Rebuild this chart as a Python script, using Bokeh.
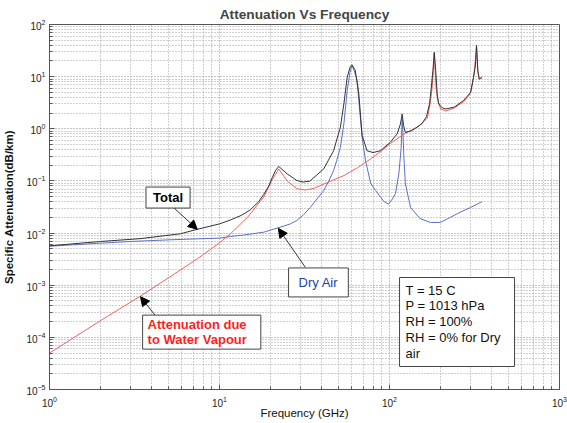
from bokeh.plotting import figure
from bokeh.models import (Range1d, FixedTicker, LogTickFormatter, Label, Arrow,
                          NormalHead)
from bokeh.embed import file_html
from bokeh.resources import INLINE

# ---------------- data ----------------
freq_total = [1, 2, 3.4, 5.9, 7.4, 10, 11.6, 13.5, 15.2, 17, 18.2, 19.5, 20.4, 21.4,
              22.3, 25, 28.5, 31, 34, 41, 46.9, 51.4, 53.9, 56.4, 58.8, 60.1, 62.9, 66,
              69, 73.7, 80, 88.5, 101, 111, 116, 118.7, 121, 124, 135, 145, 155, 165,
              172, 176, 180, 183.5, 187, 191, 195, 205, 215, 240, 273, 300, 312, 320,
              325, 331, 337, 349]
att_total = [0.0057, 0.0069, 0.0078, 0.0097, 0.0118, 0.015, 0.0178, 0.022, 0.028, 0.040,
             0.055, 0.08, 0.115, 0.16, 0.19, 0.137, 0.102, 0.095, 0.099, 0.17, 0.38,
             1.07, 3.0, 9.8, 15.6, 16.9, 13.1, 4.7, 0.75, 0.38, 0.35, 0.38, 0.55, 0.8,
             1.24, 1.93, 1.15, 0.85, 0.92, 1.07, 1.25, 1.7, 3.0, 6.0, 13, 29.5, 13, 4.5,
             3.0, 2.5, 2.4, 2.6, 3.5, 5.0, 9.7, 16, 40, 13, 9.1, 9.7]

freq_dry = [1, 2, 3, 5, 7, 10, 11.6, 14, 18.2, 22.8, 26.1, 28.5, 31, 34.2, 37, 41, 44,
            46.9, 49, 51.4, 53.9, 56.4, 58.5, 60.1, 62, 64.5, 66, 69, 72.2, 77.5, 83,
            88.5, 93, 98.6, 104, 108.4, 113.5, 117.2, 118.7, 120, 121.5, 124, 133, 151,
            174, 199, 228, 260, 300, 350]
att_dry = [0.0056, 0.0064, 0.0069, 0.0074, 0.0077, 0.008, 0.0086, 0.0092, 0.0104, 0.013,
           0.015, 0.0174, 0.022, 0.031, 0.043, 0.065, 0.1, 0.158, 0.25, 0.44, 1.24, 5.4,
           12, 16.4, 13, 8.4, 3.5, 0.69, 0.25, 0.09, 0.065, 0.049, 0.04, 0.036, 0.045,
           0.057, 0.137, 0.44, 1.5, 0.8, 0.285, 0.088, 0.031, 0.019, 0.016, 0.016, 0.020,
           0.025, 0.031, 0.04]

freq_wv = [1, 2, 3.43, 5, 7.4, 10, 11.6, 14.6, 18.2, 20.4, 22.3, 25, 28.5, 32, 36, 41,
           47, 54, 65, 77.5, 90, 101, 115, 127, 140, 150, 160, 167, 173, 178, 181, 183.3,
           185.5, 188, 192, 200, 215, 240, 273, 300, 312, 318, 325, 331, 337, 350]
att_wv = [5e-5, 2.1e-4, 6.2e-4, 1.38e-3, 3.2e-3, 6.5e-3, 9.7e-3, 0.02, 0.049, 0.105,
          0.17, 0.1, 0.071, 0.067, 0.072, 0.087, 0.105, 0.127, 0.18, 0.265, 0.38, 0.52,
          0.7, 0.86, 1.0, 1.15, 1.4, 1.6, 2.9, 6, 13, 28, 13, 6, 3.5, 2.4, 2.2, 2.5, 3.3,
          4.8, 9.5, 17, 38, 12, 8.8, 9.4]

x_decades = [1, 10, 100, 1000]
y_decades = [1e-5, 1e-4, 1e-3, 1e-2, 1e-1, 1, 10, 100]

title_text = "Attenuation Vs Frequency"
xlabel_text = "Frequency (GHz)"
ylabel_text = "Specific Attenuation(dB/km)"
info_text = "T = 15 C\nP = 1013 hPa\nRH = 100%\nRH = 0% for Dry\nair"

# ---------------- figure ----------------
FONT = "Liberation Sans"
p = figure(width=567, height=423, x_axis_type="log", y_axis_type="log",
           x_range=Range1d(1, 1000), y_range=Range1d(1e-5, 100),
           output_backend="svg", toolbar_location=None,
           min_border_left=49, min_border_right=8, min_border_top=24,
           min_border_bottom=34)

p.title.text = title_text
p.title.align = "center"
p.title.text_font = FONT
p.title.text_font_size = "13.7px"
p.title.text_font_style = "bold"
p.title.standoff = 5

x_minor = [m * d for d in x_decades[:-1] for m in range(2, 10)]
y_minor = [m * d for d in y_decades[:-1] for m in range(2, 10)]
p.xaxis.ticker = FixedTicker(ticks=x_decades, minor_ticks=x_minor)
p.yaxis.ticker = FixedTicker(ticks=y_decades, minor_ticks=y_minor)
p.xaxis.formatter = LogTickFormatter()
p.yaxis.formatter = LogTickFormatter()

for ax in (p.xaxis, p.yaxis):
    ax.major_label_text_font = FONT
    ax.major_label_text_font_size = "10px"
    ax.major_label_text_color = "#222222"
    ax.axis_label_text_font = FONT
    ax.axis_label_text_color = "#111111"
    ax.major_tick_in = 5
    ax.major_tick_out = 0
    ax.minor_tick_in = 3
    ax.minor_tick_out = 0
    ax.axis_line_color = "#555555"
    ax.major_tick_line_color = "#555555"
    ax.minor_tick_line_color = "#555555"

p.xaxis.axis_label = xlabel_text
p.xaxis.axis_label_text_font_size = "11.5px"
p.xaxis.axis_label_text_font_style = "normal"
p.xaxis.major_label_standoff = 6
p.xaxis.axis_label_standoff = -3

p.yaxis.axis_label = ylabel_text
p.yaxis.axis_label_text_font_size = "11.5px"
p.yaxis.axis_label_text_font_style = "bold"
p.yaxis.major_label_standoff = 4
p.yaxis.axis_label_standoff = 8

for g in (p.xgrid, p.ygrid):
    g.grid_line_color = "#8a8a8a"
    g.grid_line_dash = "1 2"
    g.grid_line_width = 1
    g.minor_grid_line_color = "#a0a0a0"
    g.minor_grid_line_dash = "1 2"
    g.minor_grid_line_width = 1

p.outline_line_color = "#555555"
p.background_fill_color = "white"
p.border_fill_color = "white"

# ---------------- curves ----------------
p.line(freq_dry, att_dry, line_color="#5a70c8", line_width=1)
p.line(freq_wv, att_wv, line_color="#f26060", line_width=1)
p.line(freq_total, att_total, line_color="#333333", line_width=1)

# ---------------- annotations ----------------
def arrow(xs, ys, xe, ye):
    p.add_layout(Arrow(end=NormalHead(size=9, fill_color="black", line_color="black"),
                       x_start=xs, y_start=ys, x_end=xe, y_end=ye,
                       line_color="#333333", line_width=1))

arrow(5.36, 0.031, 7.4, 0.0118)
arrow(32, 2.2e-3, 22.2, 0.0123)
arrow(4.2, 2.6e-4, 3.43, 6.0e-4)

p.add_layout(Label(x=4.98, y=0.048, text="Total", text_align="center",
                   text_baseline="middle", text_font=FONT, text_font_size="13px",
                   text_font_style="bold", text_color="black",
                   border_line_color="#444444", background_fill_color="white",
                   padding=dict(left=7, right=7, top=3, bottom=3)))

p.add_layout(Label(x=38.2, y=1.13e-3, text="Dry Air", text_align="center",
                   text_baseline="middle", text_font=FONT, text_font_size="13px",
                   text_color="#2040b0",
                   border_line_color="#444444", background_fill_color="white",
                   padding=dict(left=10, right=10, top=7, bottom=7)))

p.add_layout(Label(x=3.53, y=1.26e-4, text="Attenuation due\nto Water Vapour",
                   text_align="left", text_baseline="middle", text_font=FONT,
                   text_font_size="13px", text_font_style="bold",
                   text_color="#ff1e1e", text_line_height=1.0,
                   border_line_color="#444444", background_fill_color="white",
                   padding=dict(left=5, right=14, top=2, bottom=2)))

p.add_layout(Label(x=114.6, y=1.97e-4, text=info_text,
                   text_align="left", text_baseline="middle", text_font=FONT,
                   text_font_size="13px", text_color="#111111", text_line_height=1.05,
                   border_line_color="#444444", background_fill_color="white",
                   padding=dict(left=6, right=14, top=5, bottom=6)))

open("out.html", "w").write(file_html(p, INLINE))
